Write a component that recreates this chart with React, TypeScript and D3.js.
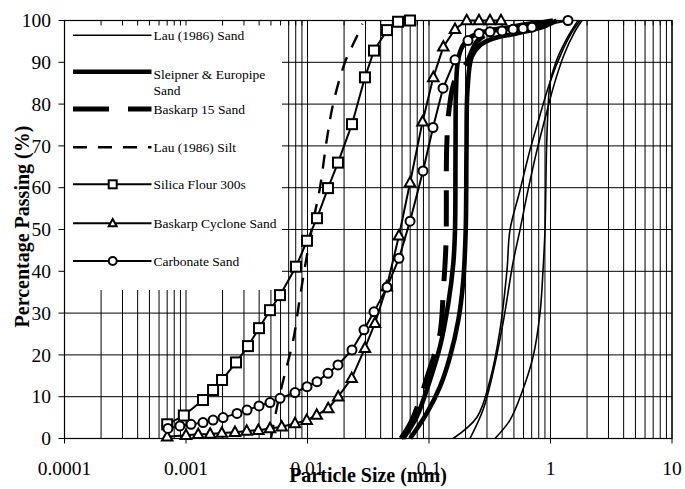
import React from 'react';
import * as d3 from 'd3';

const W = 685, H = 489;
const X0 = 64.5, X1 = 672, Y0 = 438.5, Y1 = 20.5;
const FONT = "'Liberation Serif', 'Times New Roman', serif";

// ---- data (particle size in mm, percentage passing) ----
const lauSandA_size = [0.158, 0.248, 0.318, 0.384, 0.4385, 0.464, 0.561, 0.678, 0.82, 0.991, 1.243, 1.503, 1.749];
const lauSandA_pct = [0, 5.1, 14.0, 26.0, 40.3, 49.9, 59.4, 69.0, 77.4, 85.3, 92.5, 97.2, 100];
const lauSandB_size = [0.2175, 0.278, 0.336, 0.4065, 0.491, 0.561, 0.653, 0.774, 0.918, 1.069, 1.292, 1.561, 1.817];
const lauSandB_pct = [0, 6.8, 15.7, 27.6, 42.0, 49.9, 59.4, 69.0, 77.4, 84.6, 91.8, 97.0, 100];
const lauSandC_size = [0.349, 0.464, 0.579, 0.718, 0.82, 0.868, 0.901, 0.927, 0.954, 0.991, 1.11, 1.341, 1.684];
const lauSandC_pct = [0, 4.4, 10.9, 19.5, 30.0, 40.3, 49.9, 69.0, 78.6, 85.0, 90.1, 95.3, 100];

const sleipner_size = [0.0614, 0.0792, 0.1019, 0.1232, 0.1442, 0.1585, 0.1637, 0.1653, 0.1669, 0.1733, 0.1905, 0.226, 0.3177, 0.561, 1.049];
const sleipner_pct = [0, 5.2, 14.0, 22.0, 32.3, 41.9, 49.9, 69.0, 83.4, 90.5, 94.1, 96.3, 97.7, 98.7, 100];
const europipe_size = [0.07, 0.0957, 0.1232, 0.1489, 0.1743, 0.1916, 0.2005, 0.2035, 0.2074, 0.2246, 0.263, 0.338, 0.527, 0.873, 1.125];
const europipe_pct = [0, 6.0, 12.4, 19.6, 28.3, 37.9, 49.9, 69.0, 83.4, 91.3, 94.1, 95.7, 96.9, 98.5, 100];

const baskarp15_size = [0.0588, 0.0724, 0.0987, 0.1232, 0.1312, 0.138, 0.1399, 0.1461, 0.1637, 0.204, 0.2546, 0.384, 0.82];
const baskarp15_pct = [0, 4.4, 15.6, 25.2, 35.5, 46.7, 69.8, 78.6, 85.8, 89.8, 95.3, 97.7, 99.6];

const lauSilt_size = [0.005, 0.0054, 0.00586, 0.00653, 0.00764, 0.00868, 0.00985, 0.0115, 0.0127, 0.0144, 0.0163, 0.0204, 0.0254, 0.0283];
const lauSilt_pct = [0, 5.2, 10.0, 15.6, 23.6, 33.9, 43.5, 53.9, 60.2, 71.4, 80.2, 90.1, 96.1, 99.2];

const silica_size = [0.0007, 0.00096, 0.00138, 0.00167, 0.00198, 0.00258, 0.00324, 0.00399, 0.00491, 0.00594, 0.00804, 0.00991, 0.01197, 0.01475, 0.01782, 0.02324, 0.0297, 0.03526, 0.0451, 0.0556, 0.0698];
const silica_pct = [3.4, 5.5, 9.2, 11.6, 14.0, 18.2, 22.1, 26.4, 30.7, 34.3, 41.1, 47.3, 52.7, 59.9, 66.0, 75.2, 86.4, 92.8, 97.7, 99.7, 100];

const cyclone_size = [0.0007, 0.001, 0.00126, 0.00158, 0.00197, 0.00253, 0.00316, 0.00394, 0.00491, 0.00613, 0.00789, 0.00985, 0.0119, 0.0148, 0.0179, 0.0231, 0.0297, 0.0359, 0.0449, 0.0566, 0.0698, 0.0885, 0.1085, 0.1312, 0.1637, 0.2043, 0.258, 0.3177, 0.3913];
const cyclone_pct = [0.4, 0.8, 1.0, 1.1, 1.3, 1.5, 1.8, 2.0, 2.4, 2.8, 3.6, 4.4, 5.6, 7.2, 10.0, 14.4, 21.6, 27.6, 36.3, 48.5, 61.2, 75.8, 86.4, 93.7, 97.9, 100, 100, 100, 100];

const carbonate_size = [0.00071, 0.00089, 0.0011, 0.00138, 0.00167, 0.00202, 0.00263, 0.00318, 0.00399, 0.00491, 0.00594, 0.00789, 0.00991, 0.01197, 0.01475, 0.01782, 0.02324, 0.02917, 0.03526, 0.0451, 0.0566, 0.0698, 0.0893, 0.1079, 0.1304, 0.1637, 0.2094, 0.258, 0.3177, 0.399, 0.4914, 0.594, 0.704, 1.393];
const carbonate_pct = [2.4, 3.0, 3.4, 3.8, 4.4, 5.0, 6.0, 6.8, 7.8, 8.6, 9.6, 11.0, 12.4, 13.6, 15.6, 17.6, 21.2, 26.0, 30.3, 36.2, 43.1, 52.0, 64.0, 74.4, 83.8, 90.6, 95.2, 96.9, 97.3, 97.5, 97.9, 98.1, 98.4, 100];

const xTickValues = [0.0001, 0.001, 0.01, 0.1, 1, 10];
const xTickLabels = ['0.0001', '0.001', '0.01', '0.1', '1', '10'];
const yTickValues = [0, 10, 20, 30, 40, 50, 60, 70, 80, 90, 100];

const legendLabels = [
  ['Lau (1986) Sand'],
  ['Sleipner & Europipe', 'Sand'],
  ['Baskarp 15 Sand'],
  ['Lau (1986) Silt'],
  ['Silica Flour 300s'],
  ['Baskarp Cyclone Sand'],
  ['Carbonate Sand'],
];
const legendKinds = ['thin', 'thick', 'thickDash', 'dash', 'square', 'triangle', 'circle'];
const legendRowY = [35.3, 71.7, 109, 147.3, 184.3, 223.3, 261];

const zip = (s: number[], p: number[]) => s.map((v, i) => [v, p[i]] as [number, number]);

const styles: Record<string, any> = {
  thin: { strokeWidth: 1.6 },
  thick: { strokeWidth: 4.6 },
  thickDash: { strokeWidth: 5, strokeDasharray: '36,19' },
  dash: { strokeWidth: 2.4, strokeDasharray: '14,11' },
  square: { strokeWidth: 2 },
  triangle: { strokeWidth: 2 },
  circle: { strokeWidth: 2 },
};

function Marker({ kind, cx, cy, s }: { kind: string; cx: number; cy: number; s: number }) {
  if (kind === 'square') {
    return <rect x={cx - s / 2} y={cy - s / 2} width={s} height={s} fill="#fff" stroke="#000" strokeWidth={2} />;
  }
  if (kind === 'circle') {
    return <circle cx={cx} cy={cy} r={s / 2} fill="#fff" stroke="#000" strokeWidth={2} />;
  }
  const h = s * 0.9;
  const pts = `${cx},${cy - h * 0.6} ${cx - s / 2},${cy + h * 0.4} ${cx + s / 2},${cy + h * 0.4}`;
  return <polygon points={pts} fill="#fff" stroke="#000" strokeWidth={2} strokeLinejoin="miter" />;
}

export default function App() {
  const x = d3.scaleLog().domain([1e-4, 10]).range([X0, X1]);
  const y = d3.scaleLinear().domain([0, 100]).range([Y0, Y1]);

  const smooth = d3.line<[number, number]>().x(d => x(d[0])).y(d => y(d[1])).curve(d3.curveCatmullRom.alpha(0.5));
  const straight = d3.line<[number, number]>().x(d => x(d[0])).y(d => y(d[1]));

  const minorVals: number[] = [];
  for (let e = -4; e <= 0; e++) for (let k = 1; k <= 9; k++) minorVals.push(k * Math.pow(10, e));
  minorVals.push(10);

  const LB = { x0: X0 + 0.5, x1: 282, y0: Y1 + 0.5, y1: 290 };

  const curves = [
    { d: zip(lauSandA_size, lauSandA_pct), st: styles.thin },
    { d: zip(lauSandB_size, lauSandB_pct), st: styles.thin },
    { d: zip(lauSandC_size, lauSandC_pct), st: styles.thin },
    { d: zip(sleipner_size, sleipner_pct), st: styles.thick },
    { d: zip(europipe_size, europipe_pct), st: styles.thick },
    { d: zip(baskarp15_size, baskarp15_pct), st: styles.thickDash },
    { d: zip(lauSilt_size, lauSilt_pct), st: styles.dash },
  ];
  const markerSeries = [
    { d: zip(silica_size, silica_pct), kind: 'square', s: 10 },
    { d: zip(cyclone_size, cyclone_pct), kind: 'triangle', s: 10.5 },
    { d: zip(carbonate_size, carbonate_pct), kind: 'circle', s: 9 },
  ];

  return (
    <svg width={W} height={H} style={{ position: 'absolute', left: 0, top: 0, background: '#fff' }} fontFamily={FONT}>
      <rect x={0} y={0} width={W} height={H} fill="#fff" />
      {/* vertical grid */}
      {minorVals.map((v, i) => (
        <line key={'vg' + i} x1={x(v)} x2={x(v)} y1={Y1} y2={Y0} stroke="#000" strokeWidth={1} />
      ))}
      {/* horizontal grid */}
      {yTickValues.map((v, i) => (
        <line key={'hg' + i} x1={X0} x2={X1} y1={y(v)} y2={y(v)} stroke="#000" strokeWidth={1} />
      ))}
      {/* legend background */}
      <rect x={LB.x0} y={LB.y0} width={LB.x1 - LB.x0} height={LB.y1 - LB.y0} fill="#fff" />
      {/* top ticks (inward) */}
      {minorVals.map((v, i) => (
        <line key={'tt' + i} x1={x(v)} x2={x(v)} y1={Y1} y2={Y1 + 5} stroke="#000" strokeWidth={1} />
      ))}
      {/* bottom ticks (outward) */}
      {xTickValues.map((v, i) => (
        <line key={'bt' + i} x1={x(v)} x2={x(v)} y1={Y0} y2={Y0 + 5} stroke="#000" strokeWidth={1} />
      ))}
      {/* left ticks */}
      {yTickValues.map((v, i) => (
        <line key={'lt' + i} x1={X0 - 6} x2={X0} y1={y(v)} y2={y(v)} stroke="#000" strokeWidth={1} />
      ))}
      {/* frame */}
      <rect x={X0} y={Y1} width={X1 - X0} height={Y0 - Y1} fill="none" stroke="#000" strokeWidth={1.2} />

      {/* continuous curves */}
      {curves.map((c, i) => (
        <path key={'c' + i} d={smooth(c.d) || ''} fill="none" stroke="#000" strokeLinejoin="round" {...c.st} />
      ))}
      {/* marker series */}
      {markerSeries.map((m, i) => (
        <g key={'m' + i}>
          <path d={straight(m.d) || ''} fill="none" stroke="#000" strokeWidth={2} />
          {m.d.map((p, j) => (
            <Marker key={j} kind={m.kind} cx={x(p[0])} cy={y(p[1])} s={m.s} />
          ))}
        </g>
      ))}

      {/* legend */}
      {legendLabels.map((lab, i) => {
        const kind = legendKinds[i];
        const ly = legendRowY[i];
        const st = styles[kind];
        const isMarker = kind === 'square' || kind === 'triangle' || kind === 'circle';
        return (
          <g key={'lg' + i}>
            <line x1={73} x2={151.5} y1={ly} y2={ly} stroke="#000" {...st} />
            {isMarker && <Marker kind={kind} cx={112.7} cy={ly} s={8} />}
            {lab.length === 1 ? (
              <text x={153.5} y={ly + 5} fontSize={13.5} fill="#000">{lab[0]}</text>
            ) : (
              <text x={153.5} y={ly + 7} fontSize={13.5} fill="#000">
                <tspan x={153.5}>{lab[0]}</tspan>
                <tspan x={153.5} dy={16.3}>{lab[1]}</tspan>
              </text>
            )}
          </g>
        );
      })}

      {/* tick labels */}
      {xTickValues.map((v, i) => (
        <text key={'xl' + i} x={x(v)} y={475} textAnchor="middle" fontSize={19.5} fill="#000">{xTickLabels[i]}</text>
      ))}
      {yTickValues.map((v, i) => (
        <text key={'yl' + i} x={51} y={y(v) + 6.6} textAnchor="end" fontSize={19.5} fill="#000">{v}</text>
      ))}

      {/* axis titles */}
      <text x={368} y={482} textAnchor="middle" fontSize={20} fontWeight="bold" fill="#000">Particle Size (mm)</text>
      <text transform="translate(29,226.5) rotate(-90)" textAnchor="middle" fontSize={20} fontWeight="bold" fill="#000">Percentage Passing (%)</text>
    </svg>
  );
}
